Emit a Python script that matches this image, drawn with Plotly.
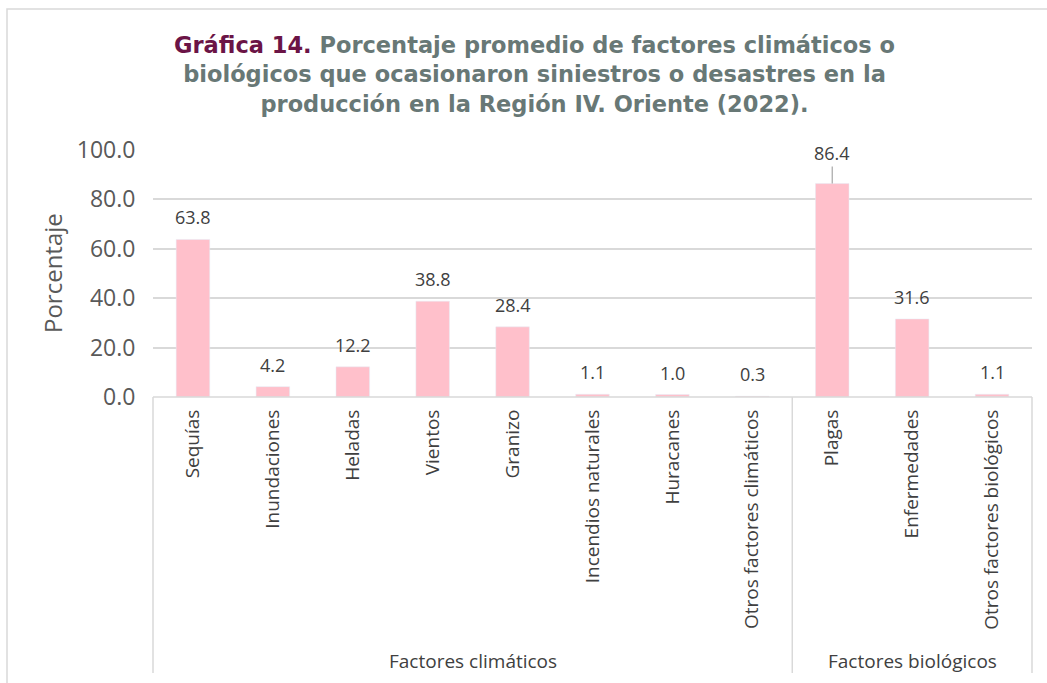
import plotly.graph_objects as go

categories = ["Sequías", "Inundaciones", "Heladas", "Vientos", "Granizo",
              "Incendios naturales", "Huracanes", "Otros factores climáticos",
              "Plagas", "Enfermedades", "Otros factores biológicos"]
values = [63.8, 4.2, 12.2, 38.8, 28.4, 1.1, 1.0, 0.3, 86.4, 31.6, 1.1]
groups = ["Factores climáticos", "Factores biológicos"]
group_sizes = [8, 3]
y_ticks = [0, 20, 40, 60, 80, 100]
title_lines = [
    "<span style='color:#6B1446'>Gráfica 14.</span> Porcentaje promedio de factores climáticos o",
    "biológicos que ocasionaron siniestros o desastres en la",
    "producción en la Región IV. Oriente (2022).",
]

W, H = 1047, 683
L, R, T, B = 153, 1032, 150, 397
pw, ph = R - L, B - T

def px(x):
    return (x - L) / pw

def py(y):
    return (B - y) / ph

FONT = "Open Sans"
fig = go.Figure()
fig.add_trace(go.Bar(x=categories, y=values, marker_color="#FFC0CB", width=0.42,
                     hoverinfo="skip"))

ann = []
for c, v in zip(categories, values):
    if v > 80:
        ann.append(dict(x=c, y=v, xref="x", yref="y", text=f"{v:.1f}", showarrow=True,
                        arrowhead=0, arrowwidth=1.2, arrowcolor="#A6A6A6", ax=0, ay=-17,
                        yanchor="bottom", font=dict(family=FONT, size=18, color="#404040")))
    else:
        ann.append(dict(x=c, y=v, xref="x", yref="y", text=f"{v:.1f}", showarrow=False,
                        yanchor="bottom", yshift=8,
                        font=dict(family=FONT, size=18, color="#404040")))

n = len(categories)
start = 0
for g, s in zip(groups, group_sizes):
    ann.append(dict(x=(start + s / 2) / n, y=py(661), xref="paper", yref="paper",
                    text=g, showarrow=False, xanchor="center", yanchor="middle",
                    font=dict(family=FONT, size=19, color="#404040")))
    start += s

ann.append(dict(x=px(52), y=py(273), xref="paper", yref="paper", text="Porcentaje",
                textangle=-90, showarrow=False, xanchor="center", yanchor="middle",
                font=dict(family=FONT, size=24, color="#595959")))

ann.append(dict(x=px(534), y=py(74), xref="paper", yref="paper", showarrow=False,
                xanchor="center", yanchor="middle", align="center",
                text="<b>" + "<br>".join(title_lines) + "</b>",
                font=dict(family="DejaVu Sans", size=22.5, color="#687876")))

shapes = []
grey = "#D9D9D9"
shapes.append(dict(type="line", xref="paper", yref="paper", x0=0, x1=1, y0=0, y1=0,
                   line=dict(color=grey, width=1.5)))
for xs in [0] + [sum(group_sizes[:i + 1]) for i in range(len(group_sizes))]:
    shapes.append(dict(type="line", xref="paper", yref="paper", x0=xs / n, x1=xs / n,
                       y0=0, y1=py(673), line=dict(color=grey, width=1.5)))
shapes.append(dict(type="rect", xref="paper", yref="paper", x0=px(7), x1=px(1060),
                   y0=py(700), y1=py(9), line=dict(color=grey, width=1.5), layer="below"))

fig.update_layout(
    width=W, height=H, margin=dict(l=L, r=W - R, t=T, b=H - B),
    paper_bgcolor="white", plot_bgcolor="white", showlegend=False,
    annotations=ann, shapes=shapes,
    xaxis=dict(tickangle=-90, tickfont=dict(family=FONT, size=19, color="#404040"),
               showgrid=False, showline=False, zeroline=False, ticks="outside",
               ticklen=4, tickcolor="rgba(0,0,0,0)", fixedrange=True),
    yaxis=dict(range=[0, 100], tickvals=y_ticks, tickformat=".1f",
               tickfont=dict(family=FONT, size=23, color="#595959"),
               showgrid=True, gridcolor=grey, gridwidth=1.5, zeroline=False,
               showline=False, ticks="outside", ticklen=12, tickcolor="rgba(0,0,0,0)"),
)

fig.write_html("out.html", config={"displayModeBar": False},
               post_script="document.body.style.margin='0px';document.body.style.overflow='hidden';")
